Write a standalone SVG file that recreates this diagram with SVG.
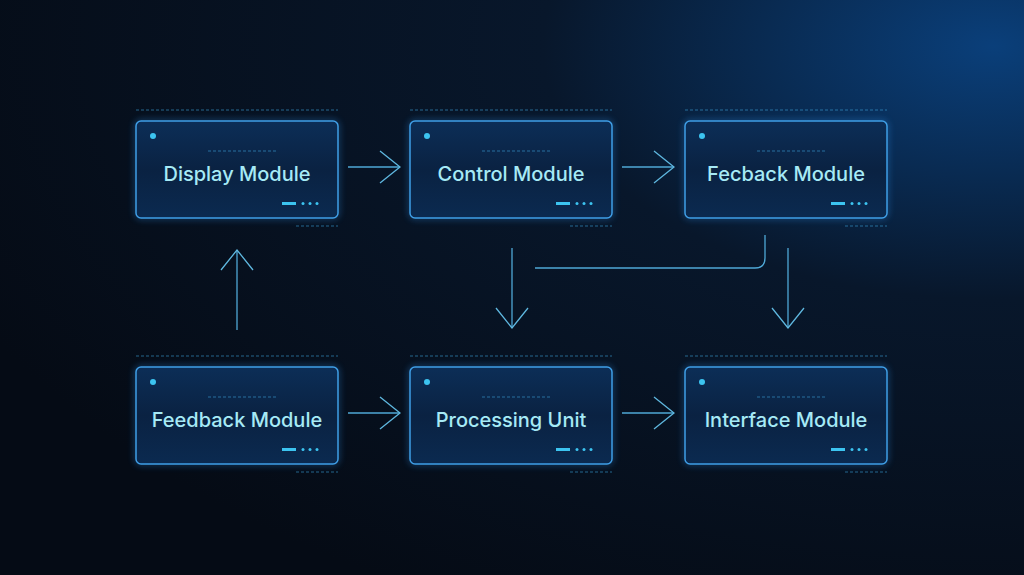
<svg xmlns="http://www.w3.org/2000/svg" width="1024" height="575" viewBox="0 0 1024 575">
<defs>
<radialGradient id="bg" cx="0.97" cy="0.08" r="1.1">
<stop offset="0" stop-color="#0a3f7a"/><stop offset="0.4" stop-color="#08172b"/><stop offset="1" stop-color="#050b15"/>
</radialGradient>
<linearGradient id="box" x1="0" y1="0" x2="0" y2="1">
<stop offset="0" stop-color="#0c2e57"/><stop offset="0.5" stop-color="#0a2242"/><stop offset="1" stop-color="#0b2a50"/>
</linearGradient>
<filter id="glow" x="-20%" y="-20%" width="140%" height="140%"><feGaussianBlur stdDeviation="3"/></filter>
<marker id="ah" viewBox="0 0 22 34" refX="21" refY="17" markerWidth="22" markerHeight="34" markerUnits="userSpaceOnUse" orient="auto"><path d="M1 1 L21 17 L1 33" fill="none" stroke="#5fb8e0" stroke-width="1.3"/></marker>
<style>
.b{fill:url(#box);stroke:#3f9ee6;stroke-width:1.5}
.g{fill:none;stroke:#2b8ee8;stroke-width:3;opacity:0.5;filter:url(#glow)}
.t{font-family:Inter,"Open Sans",sans-serif;font-size:20px;font-weight:500;fill:#a6eaf6;text-anchor:middle}
.c{fill:none;stroke:#4fa8d6;stroke-width:1.3}
.d{stroke:#3aa0d8;stroke-width:1;stroke-dasharray:3 2;opacity:0.6}
.dot{fill:#3cc4f0}
</style>
</defs>
<rect width="1024" height="575" fill="url(#bg)"/>
<g id="connectors">
<path class="c" d="M348 167 H400" marker-end="url(#ah)"/>
<path class="c" d="M622 167 H674" marker-end="url(#ah)"/>
<path class="c" d="M348 413 H400" marker-end="url(#ah)"/>
<path class="c" d="M622 413 H674" marker-end="url(#ah)"/>
<path class="c" d="M237 330 V250" marker-end="url(#ah)"/>
<path class="c" d="M512 248 V328" marker-end="url(#ah)"/>
<path class="c" d="M788 248 V328" marker-end="url(#ah)"/>
<path class="c" d="M765 235 V258 Q765 268 755 268 H535"/>
</g>
<g id="n1" transform="translate(136,121)"><rect class="g" width="202" height="97" rx="5"/><rect class="b" width="202" height="97" rx="5"/><circle class="dot" cx="17" cy="15" r="3"/><line class="d" x1="72" y1="30" x2="142" y2="30"/><rect x="146" y="81" width="14" height="3" fill="#3cc4f0"/><g class="dot"><circle cx="167" cy="82.5" r="1.5"/><circle cx="174" cy="82.5" r="1.5"/><circle cx="181" cy="82.5" r="1.5"/></g><line class="d" x1="0" y1="-11" x2="202" y2="-11"/><line class="d" x1="160" y1="105" x2="202" y2="105"/><text class="t" x="101" y="60">Display Module</text></g>
<g id="n2" transform="translate(410,121)"><rect class="g" width="202" height="97" rx="5"/><rect class="b" width="202" height="97" rx="5"/><circle class="dot" cx="17" cy="15" r="3"/><line class="d" x1="72" y1="30" x2="142" y2="30"/><rect x="146" y="81" width="14" height="3" fill="#3cc4f0"/><g class="dot"><circle cx="167" cy="82.5" r="1.5"/><circle cx="174" cy="82.5" r="1.5"/><circle cx="181" cy="82.5" r="1.5"/></g><line class="d" x1="0" y1="-11" x2="202" y2="-11"/><line class="d" x1="160" y1="105" x2="202" y2="105"/><text class="t" x="101" y="60">Control Module</text></g>
<g id="n3" transform="translate(685,121)"><rect class="g" width="202" height="97" rx="5"/><rect class="b" width="202" height="97" rx="5"/><circle class="dot" cx="17" cy="15" r="3"/><line class="d" x1="72" y1="30" x2="142" y2="30"/><rect x="146" y="81" width="14" height="3" fill="#3cc4f0"/><g class="dot"><circle cx="167" cy="82.5" r="1.5"/><circle cx="174" cy="82.5" r="1.5"/><circle cx="181" cy="82.5" r="1.5"/></g><line class="d" x1="0" y1="-11" x2="202" y2="-11"/><line class="d" x1="160" y1="105" x2="202" y2="105"/><text class="t" x="101" y="60">Fecback Module</text></g>
<g id="n4" transform="translate(136,367)"><rect class="g" width="202" height="97" rx="5"/><rect class="b" width="202" height="97" rx="5"/><circle class="dot" cx="17" cy="15" r="3"/><line class="d" x1="72" y1="30" x2="142" y2="30"/><rect x="146" y="81" width="14" height="3" fill="#3cc4f0"/><g class="dot"><circle cx="167" cy="82.5" r="1.5"/><circle cx="174" cy="82.5" r="1.5"/><circle cx="181" cy="82.5" r="1.5"/></g><line class="d" x1="0" y1="-11" x2="202" y2="-11"/><line class="d" x1="160" y1="105" x2="202" y2="105"/><text class="t" x="101" y="60">Feedback Module</text></g>
<g id="n5" transform="translate(410,367)"><rect class="g" width="202" height="97" rx="5"/><rect class="b" width="202" height="97" rx="5"/><circle class="dot" cx="17" cy="15" r="3"/><line class="d" x1="72" y1="30" x2="142" y2="30"/><rect x="146" y="81" width="14" height="3" fill="#3cc4f0"/><g class="dot"><circle cx="167" cy="82.5" r="1.5"/><circle cx="174" cy="82.5" r="1.5"/><circle cx="181" cy="82.5" r="1.5"/></g><line class="d" x1="0" y1="-11" x2="202" y2="-11"/><line class="d" x1="160" y1="105" x2="202" y2="105"/><text class="t" x="101" y="60">Processing Unit</text></g>
<g id="n6" transform="translate(685,367)"><rect class="g" width="202" height="97" rx="5"/><rect class="b" width="202" height="97" rx="5"/><circle class="dot" cx="17" cy="15" r="3"/><line class="d" x1="72" y1="30" x2="142" y2="30"/><rect x="146" y="81" width="14" height="3" fill="#3cc4f0"/><g class="dot"><circle cx="167" cy="82.5" r="1.5"/><circle cx="174" cy="82.5" r="1.5"/><circle cx="181" cy="82.5" r="1.5"/></g><line class="d" x1="0" y1="-11" x2="202" y2="-11"/><line class="d" x1="160" y1="105" x2="202" y2="105"/><text class="t" x="101" y="60">Interface Module</text></g>
</svg>
